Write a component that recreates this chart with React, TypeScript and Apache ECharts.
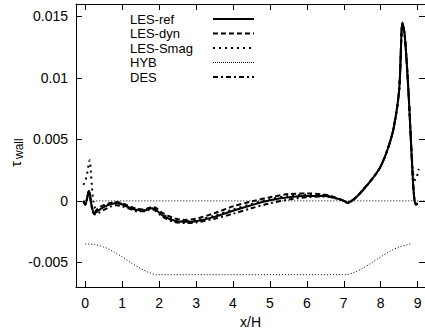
import React, { useEffect, useRef } from "react";
import * as echarts from "echarts";

const FONT = "'Liberation Sans', Arial, Helvetica, sans-serif";

const xTicks = [0, 1, 2, 3, 4, 5, 6, 7, 8, 9];
const yTicks = [-0.005, 0, 0.005, 0.01, 0.015];
const yTickLabels = ["-0.005", "0", "0.005", "0.01", "0.015"];

const legendNames = ["LES-ref", "LES-dyn", "LES-Smag", "HYB", "DES"];

// shared x positions for LES-ref, LES-dyn, DES
const xMain = [
  -0.05, 0.0, 0.05, 0.1, 0.13, 0.18, 0.25, 0.35, 0.5, 0.7, 0.85, 1.0, 1.2, 1.4, 1.6, 1.8, 1.9,
  2.1, 2.4, 2.7, 3.0, 3.5, 4.0, 4.5, 5.0, 5.5, 6.0, 6.5, 6.8, 7.0, 7.1, 7.3, 7.5, 7.8, 8.0,
  8.2, 8.35, 8.5, 8.59, 8.65, 8.75, 8.85, 8.9, 8.95, 9.0,
];
// values in units of 1e-3
const lesRef = [
  0.0, -0.3, 0.2, 0.8, 0.5, -0.5, -1.0, -0.8, -0.5, -0.25, -0.2, -0.3, -0.55, -0.75, -0.8, -0.6,
  -0.7, -1.2, -1.6, -1.7, -1.65, -1.3, -0.8, -0.35, 0.05, 0.3, 0.4, 0.4, 0.2, 0.0, -0.15, 0.2,
  0.8, 1.9, 2.8, 4.3, 5.9, 9.0, 14.5, 13.5, 9.0, 3.0, 0.5, -0.3, -0.2,
];
const lesDyn = [
  0.0, -0.3, 0.2, 0.8, 0.4, -0.5, -0.9, -0.6, -0.35, -0.15, -0.1, -0.2, -0.45, -0.65, -0.7,
  -0.5, -0.55, -1.0, -1.4, -1.55, -1.45, -1.0, -0.45, -0.05, 0.3, 0.55, 0.6, 0.5, 0.25, 0.0,
  -0.15, 0.2, 0.85, 1.9, 2.8, 4.3, 5.9, 9.0, 14.4, 13.5, 9.0, 3.0, 0.5, -0.3, -0.2,
];
const des = [
  0.0, -0.3, 0.2, 0.8, 0.4, -0.6, -1.1, -1.0, -0.75, -0.45, -0.35, -0.45, -0.65, -0.85, -0.85,
  -0.65, -0.8, -1.3, -1.7, -1.8, -1.75, -1.45, -1.05, -0.6, -0.2, 0.1, 0.3, 0.35, 0.2, 0.0,
  -0.15, 0.2, 0.8, 1.9, 2.8, 4.3, 5.9, 9.0, 14.4, 13.5, 9.0, 3.0, 0.5, -0.3, -0.2,
];

const xSmag = [
  -0.05, 0.0, 0.05, 0.1, 0.12, 0.15, 0.18, 0.22, 0.28, 0.35, 0.5, 0.7, 0.85, 1.0, 1.2, 1.4, 1.6,
  1.8, 1.9, 2.1, 2.4, 2.7, 3.0, 3.5, 4.0, 4.5, 5.0, 5.5, 6.0, 6.5, 6.8, 7.0, 7.1, 7.3, 7.5, 7.8,
  8.0, 8.2, 8.35, 8.5, 8.59, 8.65, 8.75, 8.85, 8.9, 8.95, 9.0, 9.03,
];
const lesSmag = [
  1.3, 1.6, 2.2, 3.1, 3.3, 2.5, 1.2, 0.0, -0.7, -0.75, -0.45, -0.2, -0.15, -0.25, -0.5, -0.7,
  -0.75, -0.55, -0.65, -1.1, -1.5, -1.65, -1.6, -1.2, -0.7, -0.25, 0.15, 0.4, 0.5, 0.45, 0.2,
  0.0, -0.15, 0.2, 0.8, 1.9, 2.8, 4.3, 5.9, 9.0, 14.4, 13.5, 9.0, 3.2, 1.8, 1.7, 2.2, 2.6,
];

const xHyb = [0.3, 9.2];
const hyb = [0.0, 0.0];

const xHill = [0, 0.25, 0.5, 0.75, 1.0, 1.25, 1.5, 1.75, 1.93, 7.07, 7.25, 7.5, 7.75, 8.0, 8.25, 8.5, 8.75, 8.8];
const hill = [-3.5, -3.55, -3.75, -4.1, -4.55, -5.05, -5.5, -5.85, -6.0, -6.0, -5.85, -5.5, -5.05, -4.55, -4.1, -3.75, -3.55, -3.5];

const pairs = (xs: number[], ys: number[]) => xs.map((x, i) => [x, ys[i] / 1000]);

const styles = [
  { width: 2, type: "solid" as any },
  { width: 2, type: [5, 3] as any },
  { width: 2, type: [2, 4] as any },
  { width: 1, type: [1, 1] as any },
  { width: 2, type: [5, 3, 2, 3] as any },
];

export default function App() {
  const ref = useRef<HTMLDivElement>(null);
  useEffect(() => {
    document.body.style.margin = "0";
    const chart = echarts.init(ref.current!, null, { renderer: "svg" });
    const mkLine = (name: string, data: number[][], st: any, extra: any = {}) => ({
      name,
      type: "line",
      data,
      showSymbol: false,
      symbol: "none",
      smooth: 0.3,
      lineStyle: { color: "#000", width: st.width, type: st.type },
      z: 3,
      ...extra,
    });
    const legendRowY = [19, 33.5, 48, 62.5, 77];
    const legendGraphics: any[] = [];
    legendNames.forEach((n, i) => {
      legendGraphics.push({
        type: "text",
        x: 130,
        y: legendRowY[i],
        style: { text: n, fill: "#000", font: `13px ${FONT}`, textVerticalAlign: "middle", textAlign: "left" },
      });
      legendGraphics.push({
        type: "line",
        shape: { x1: 213, y1: legendRowY[i], x2: 254, y2: legendRowY[i] },
        style: { stroke: "#000", lineWidth: styles[i].width === 1 ? 1 : 2, lineDash: styles[i].type === "solid" ? null : styles[i].type },
      });
    });
    const axisCommon = {
      type: "value",
      axisLine: { show: true, onZero: false, lineStyle: { color: "#000", width: 1 } },
      splitLine: { show: false },
    };
    chart.setOption({
      animation: false,
      grid: { left: 76, top: 4, right: 0, bottom: 49, containLabel: false },
      xAxis: [
        {
          ...axisCommon,
          min: -0.25,
          max: 9.2,
          position: "bottom",
          axisTick: { show: true, inside: true, length: 6, customValues: xTicks, lineStyle: { color: "#000" } },
          axisLabel: { show: true, customValues: xTicks, fontSize: 14, color: "#000", margin: 9, fontFamily: FONT },
          name: "x/H",
          nameLocation: "middle",
          nameGap: 19,
          nameTextStyle: { fontSize: 14, color: "#000", fontFamily: FONT, verticalAlign: "top" },
        },
        {
          ...axisCommon,
          min: -0.25,
          max: 9.2,
          position: "top",
          axisTick: { show: true, inside: true, length: 6, customValues: xTicks, lineStyle: { color: "#000" } },
          axisLabel: { show: false },
        },
      ],
      yAxis: [
        {
          ...axisCommon,
          min: -0.007,
          max: 0.016,
          position: "left",
          axisTick: { show: true, inside: true, length: 6, customValues: yTicks, lineStyle: { color: "#000" } },
          axisLabel: {
            show: true,
            customValues: yTicks,
            fontSize: 14,
            color: "#000",
            margin: 8,
            fontFamily: FONT,
            formatter: (v: number) => {
              const i = yTicks.findIndex((t) => Math.abs(t - v) < 1e-9);
              return i >= 0 ? yTickLabels[i] : "";
            },
          },
        },
        {
          ...axisCommon,
          min: -0.007,
          max: 0.016,
          position: "right",
          axisTick: { show: true, inside: true, length: 6, customValues: yTicks, lineStyle: { color: "#000" } },
          axisLabel: { show: false },
        },
      ],
      graphic: [
        ...legendGraphics,
        {
          type: "group",
          x: 15,
          y: 153,
          rotation: Math.PI / 2,
          children: [
            { type: "text", x: -14, y: 0, style: { text: "τ", fill: "#000", font: `15px ${FONT}`, textVerticalAlign: "middle" } },
            { type: "text", x: -6, y: 4, style: { text: "wall", fill: "#000", font: `12px ${FONT}`, textVerticalAlign: "middle" } },
          ],
        },
      ],
      series: [
        mkLine("HYB-geom", pairs(xHill, hill), { width: 1, type: [1, 2] }, { smooth: 0.3 }),
        mkLine(legendNames[3], pairs(xHyb, hyb), { width: 1, type: [1, 2] }, { smooth: false }),
        mkLine(legendNames[2], pairs(xSmag, lesSmag), styles[2]),
        mkLine(legendNames[4], pairs(xMain, des), styles[4]),
        mkLine(legendNames[1], pairs(xMain, lesDyn), styles[1]),
        mkLine(legendNames[0], pairs(xMain, lesRef), styles[0]),
      ],
    });
    return () => chart.dispose();
  }, []);
  return <div ref={ref} style={{ width: 425, height: 336 }} />;
}
